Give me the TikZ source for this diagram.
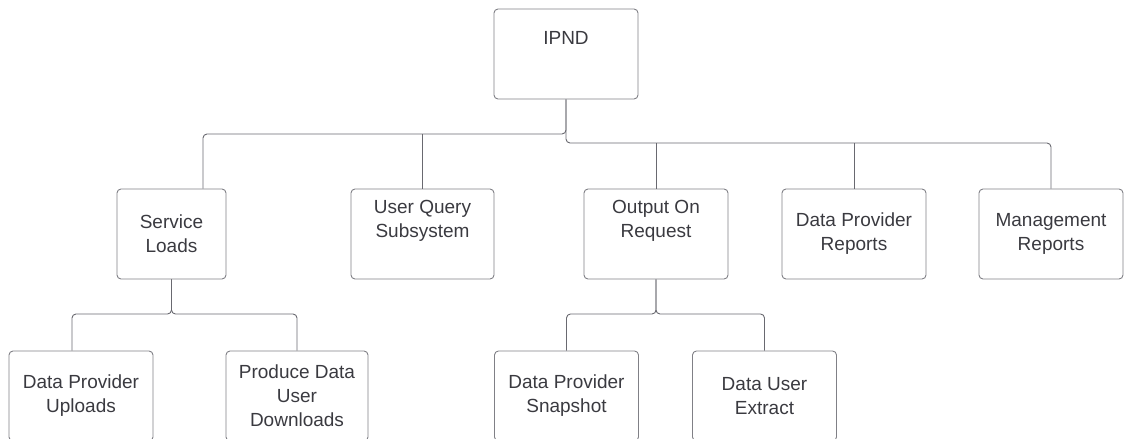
\documentclass[tikz,border=0pt]{standalone}
\usepackage{fontspec}
\setmainfont{Liberation Sans}
\usepackage{tikz}
\usetikzlibrary{calc}
\definecolor{boxline}{RGB}{128,128,134}
\definecolor{linkline}{RGB}{105,105,112}
\definecolor{boxtext}{RGB}{58,58,64}
\tikzstyle{link} = [draw=linkline, line width=0.9pt, rounded corners=4pt]
\tikzstyle{orgbox} = [rectangle, rounded corners=4pt, minimum width=144pt, minimum height=90pt, draw=boxline, line width=0.9pt, text=boxtext, align=center, font=\fontsize{19}{24}\selectfont]

\begin{document}
\begin{tikzpicture}[x=1pt,y=-1pt]
		\useasboundingbox (0,0) rectangle (1125,439);
		   	\node[orgbox](ipnd) at (566,54) {IPND\\\strut};
		   	\node[orgbox,minimum width=109pt](s_loads) at (171.5,234) {Service\\Loads};
		   	\node[orgbox,minimum width=143pt](s_query) at (422.5,234) {User Query\\Subsystem\\\strut};
		   	\node[orgbox](s_output) at (656,234) {Output On\\Request\\\strut};
		   	\node[orgbox](s_dpreports) at (854,234) {Data Provider\\Reports};
		   	\node[orgbox](s_mgmt) at (1051,234) {Management\\Reports};
		   	\node[orgbox](s_uploads) at (81,396) {Data Provider\\Uploads};
		   	\node[orgbox,minimum width=142pt](s_downloads) at (297,396) {Produce Data\\User\\Downloads};
		   	\node[orgbox](s_snapshot) at (566.5,396) {Data Provider\\Snapshot};
		   	\node[orgbox](s_extract) at (764.5,396) {Data User\\Extract};
		   	% top level buses
		   	\coordinate (bus_l) at (566,134);
		   	\coordinate (bus_r) at (566,143);
		    \draw[link] (ipnd.south) -- (bus_l) -| (s_loads.north -| 203,0);
		    \draw[link] (ipnd.south) -- (bus_r) -| (s_mgmt.north);
		    \draw[link] (s_query.north |- bus_l) -- (s_query.north);
		    \draw[link] (s_output.north |- bus_r) -- (s_output.north);
		    \draw[link] (s_dpreports.north |- bus_r) -- (s_dpreports.north);
		   	% lower buses
		   	\coordinate (bus_sl) at (171.5,314);
		   	\coordinate (bus_or) at (656,314);
		    \draw[link] (s_loads.south) -- (bus_sl) -| (s_uploads.north -| 72,0);
		    \draw[link] (s_loads.south) -- (bus_sl) -| (s_downloads.north);
		    \draw[link] (s_output.south) -- (bus_or) -| (s_snapshot.north);
		    \draw[link] (s_output.south) -- (bus_or) -| (s_extract.north);
		\end{tikzpicture}
\end{document}
